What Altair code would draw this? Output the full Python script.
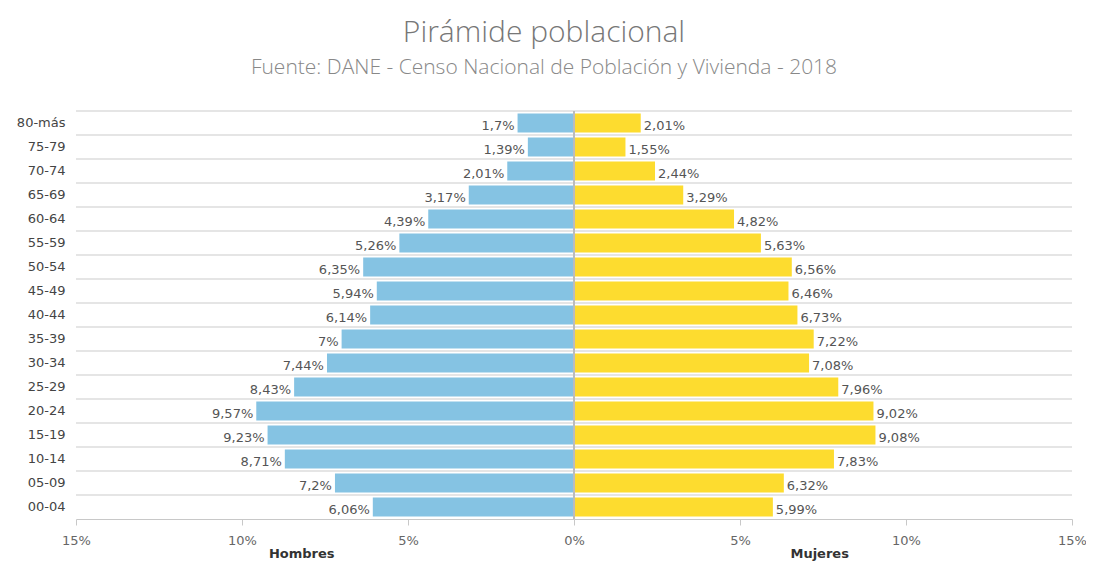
import altair as alt
import pandas as pd

edades = ["80-más", "75-79", "70-74", "65-69", "60-64", "55-59", "50-54", "45-49",
          "40-44", "35-39", "30-34", "25-29", "20-24", "15-19", "10-14", "05-09", "00-04"]
hombres = [1.7, 1.39, 2.01, 3.17, 4.39, 5.26, 6.35, 5.94, 6.14, 7, 7.44, 8.43, 9.57, 9.23, 8.71, 7.2, 6.06]
mujeres = [2.01, 1.55, 2.44, 3.29, 4.82, 5.63, 6.56, 6.46, 6.73, 7.22, 7.08, 7.96, 9.02, 9.08, 7.83, 6.32, 5.99]
sexos = ["Hombres", "Mujeres"]
colores = ["#85C3E3", "#FDDC2F"]
ticks = [-15, -10, -5, 0, 5, 10, 15]
titulos_x = ["Hombres", "Mujeres"]
pos_titulos_x = [-8.2, 7.4]


def fmt(v):
    return ("%g" % v).replace(".", ",") + "%"


rows = []
for e, h, m in zip(edades, hombres, mujeres):
    rows.append({"edad": e, "sexo": "Hombres", "valor": -h, "etiqueta": fmt(h)})
    rows.append({"edad": e, "sexo": "Mujeres", "valor": m, "etiqueta": fmt(m)})
df = pd.DataFrame(rows)
df_edades = pd.DataFrame({"edad": edades})
df_tit = pd.DataFrame({"lab": titulos_x, "pos": pos_titulos_x})

W, H = 996, 408
FONT = "DejaVu Sans"

xscale = alt.Scale(domain=[-15, 15], nice=False)
xaxis = alt.Axis(values=ticks, labelExpr="abs(datum.value) + '%'", title=None, grid=False,
                 domainColor="#c8c8c8", tickColor="#c8c8c8", tickSize=6, labelPadding=9,
                 labelColor="#666", labelFontSize=13, labelFont=FONT, labelFlush=False)
ysort = edades

grid = alt.Chart(df_edades).mark_rule(color="#dcdcdc", strokeWidth=1.5).encode(
    y=alt.Y("edad:N", sort=ysort, bandPosition=0,
            scale=alt.Scale(paddingInner=0, paddingOuter=0), axis=None),
    x=alt.value(0), x2=alt.value(W),
)

yenc = alt.Y("edad:N", sort=ysort, scale=alt.Scale(paddingInner=0.2, paddingOuter=0.1),
             axis=alt.Axis(title=None, domain=False, ticks=False, labelPadding=11,
                           labelFontSize=13, labelFont=FONT, labelColor="#444"))

bars = alt.Chart(df).mark_bar().encode(
    x=alt.X("valor:Q", scale=xscale, axis=xaxis),
    y=yenc,
    color=alt.Color("sexo:N", scale=alt.Scale(domain=sexos, range=colores), legend=None),
)

lab_h = alt.Chart(df[df.sexo == "Hombres"]).mark_text(
    align="right", baseline="middle", dx=-3, dy=3, fontSize=13, font=FONT, color="#555"
).encode(x=alt.X("valor:Q", scale=xscale, axis=xaxis), y=yenc, text="etiqueta:N")

lab_m = alt.Chart(df[df.sexo == "Mujeres"]).mark_text(
    align="left", baseline="middle", dx=3, dy=3, fontSize=13, font=FONT, color="#555"
).encode(x=alt.X("valor:Q", scale=xscale, axis=xaxis), y=yenc, text="etiqueta:N")

zero = alt.Chart(df_edades).mark_rule(color="#bdbdbd", strokeWidth=1.5).encode(
    x=alt.datum(0), y=alt.value(0), y2=alt.value(H)
)

tit = alt.Chart(df_tit).mark_text(fontWeight="bold", fontSize=13, font=FONT, color="#333").encode(
    x=alt.X("pos:Q", scale=xscale, axis=xaxis), y=alt.value(H + 35), text="lab:N"
)

main = alt.layer(bars, lab_h, lab_m, zero, tit)

chart = alt.layer(grid, main).resolve_scale(y="independent").properties(
    width=W, height=H,
    autosize=alt.AutoSizeParams(type="none"),
    padding={"left": 68, "top": 103, "right": 14, "bottom": 42},
    title=alt.TitleParams(
        text="Pirámide poblacional",
        subtitle="Fuente: DANE - Censo Nacional de Población y Vivienda - 2018",
        font="Open Sans", fontSize=30, fontWeight=300, color="#777",
        subtitleFont="Open Sans", subtitleFontSize=21, subtitleFontWeight=300,
        subtitleColor="#888", subtitlePadding=9,
        anchor="middle", dx=-30, offset=32,
    ),
).configure_view(stroke=None)

chart.save("out.html", embed_options={"renderer": "svg", "actions": False})
